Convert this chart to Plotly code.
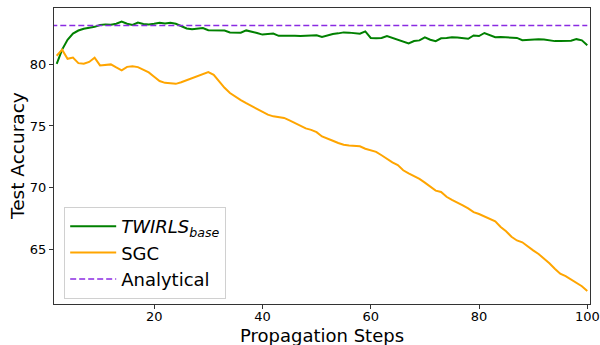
import plotly.graph_objects as go

steps = list(range(2, 101))

twirls_base = [
    80.05, 81.2, 82.0, 82.5, 82.75, 82.9, 82.98, 83.05, 83.2,          # 2-10
    83.25, 83.22, 83.3, 83.48, 83.3, 83.2, 83.4, 83.28, 83.25, 83.3,    # 11-20
    83.38, 83.32, 83.38, 83.3, 83.1, 82.92, 82.86, 82.88, 82.95, 82.78, # 21-30
    82.76, 82.78, 82.75, 82.6, 82.57, 82.58, 82.76, 82.68, 82.55, 82.42,# 31-40
    82.45, 82.5, 82.32, 82.33, 82.35, 82.32, 82.3, 82.33, 82.35, 82.36, # 41-50
    82.22, 82.35, 82.47, 82.52, 82.6, 82.58, 82.52, 82.49, 82.68, 82.15,# 51-60
    82.13, 82.14, 82.3, 82.15, 82.03, 81.85, 81.7, 81.9, 81.95, 82.2,   # 61-70
    82.0, 81.88, 82.12, 82.15, 82.2, 82.18, 82.12, 82.08, 82.35, 82.3,  # 71-80
    82.55, 82.38, 82.2, 82.22, 82.2, 82.18, 82.15, 81.96, 82.0, 82.03,  # 81-90
    82.04, 82.02, 81.95, 81.89, 81.9, 81.89, 81.92, 82.05, 81.95, 81.55 # 91-100
]

sgc = [
    80.7, 81.2, 80.45, 80.55, 80.1, 80.05, 80.2, 80.54, 79.92,          # 2-10
    79.95, 80.0, 79.75, 79.52, 79.8, 79.85, 79.78, 79.55, 79.35, 79.0,  # 11-20
    78.65, 78.5, 78.48, 78.42, 78.55, 78.72, 78.85, 79.0, 79.2, 79.38,  # 21-30
    79.15, 78.6, 78.1, 77.67, 77.35, 77.1, 76.85, 76.6, 76.35, 76.1,    # 31-40
    75.92, 75.78, 75.7, 75.65, 75.45, 75.25, 75.0, 74.8, 74.68, 74.5,   # 41-50
    74.15, 73.95, 73.8, 73.62, 73.48, 73.42, 73.38, 73.35, 73.15, 73.0, # 51-60
    72.9, 72.62, 72.32, 72.05, 71.82, 71.4, 71.15, 70.95, 70.7, 70.4,   # 61-70
    70.05, 69.75, 69.64, 69.25, 69.0, 68.8, 68.55, 68.3, 68.0, 67.85,   # 71-80
    67.65, 67.48, 67.25, 66.8, 66.45, 66.0, 65.7, 65.55, 65.2, 64.9,    # 81-90
    64.6, 64.25, 63.85, 63.4, 63.0, 62.8, 62.55, 62.25, 61.98, 61.6     # 91-100
]

analytical_value = 83.15

x_ticks = [20, 40, 60, 80, 100]
y_ticks = [65, 70, 75, 80]

FONT = "DejaVu Sans"

fig = go.Figure()
fig.add_trace(go.Scatter(
    x=steps, y=twirls_base, mode="lines",
    name="<i>TWIRLS</i><sub><i>base</i></sub>",
    line=dict(color="green", width=2),
))
fig.add_trace(go.Scatter(
    x=steps, y=sgc, mode="lines", name="SGC",
    line=dict(color="orange", width=2),
))
fig.add_trace(go.Scatter(
    x=[steps[0] - 1, steps[-1]], y=[analytical_value, analytical_value],
    mode="lines", name="Analytical",
    line=dict(color="blueviolet", width=1.5, dash="6px,3px"),
))

axis_common = dict(
    showgrid=False, zeroline=False, showline=True, mirror=True,
    linecolor="#333333", linewidth=1.3, automargin=False,
    ticks="outside", ticklen=4, tickwidth=1, tickcolor="#333333",
    tickfont=dict(family=FONT, size=13, color="black"),
    ticklabeloverflow="allow",
)

fig.update_layout(
    width=600, height=345,
    margin=dict(l=54, r=10, t=8, b=41),
    paper_bgcolor="white", plot_bgcolor="white",
    font=dict(family=FONT, color="black"),
    xaxis=dict(range=[1.5, 100.5], tickvals=x_ticks, ticklabelstandoff=-4,
               **axis_common),
    yaxis=dict(range=[60.54, 84.58], tickvals=y_ticks, **axis_common),
    legend=dict(
        x=0.019, y=0.017, xanchor="left", yanchor="bottom",
        bgcolor="rgba(255,255,255,0.8)", bordercolor="#d0d0d0", borderwidth=1,
        font=dict(family=FONT, size=18),
        tracegroupgap=0, itemwidth=46,
    ),
    showlegend=True,
    annotations=[
        dict(text="Propagation Steps", xref="paper", yref="paper",
             x=0.5, y=-0.108, xanchor="center", yanchor="middle",
             showarrow=False, font=dict(family=FONT, size=18, color="black")),
        dict(text="Test Accuracy", xref="paper", yref="paper",
             x=-0.069, y=0.5, xanchor="center", yanchor="middle", textangle=-90,
             showarrow=False, font=dict(family=FONT, size=18.5, color="black")),
    ],
)

fig.write_html("out.html")
